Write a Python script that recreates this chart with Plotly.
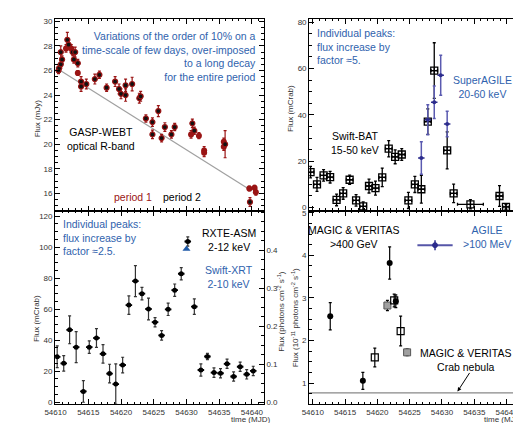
import plotly.graph_objects as go

# ---------------- data ----------------
# GASP-WEBT optical R-band (mJy)
gasp_p2_t = [54610.45, 54610.55, 54610.8, 54610.8, 54611.0, 54611.8, 54612.0, 54612.6, 54612.8, 54613.0,
             54613.4, 54613.9, 54613.9, 54614.7, 54616.0, 54616.7, 54617.8, 54619.1, 54619.7, 54620.0,
             54620.7, 54620.7, 54621.7, 54622.8, 54623.0, 54623.8, 54624.8, 54624.8, 54625.7, 54626.2,
             54626.7, 54627.7, 54628.2, 54630.9, 54631.2, 54635.9, 54639.7]
gasp_p2_f = [26.0, 26.2, 26.5, 27.5, 26.9, 28.5, 28.1, 27.5, 26.9, 27.5,
             26.6, 25.1, 24.7, 24.9, 25.3, 25.65, 24.6, 25.1, 24.5, 24.1,
             24.8, 24.0, 24.9, 23.75, 23.9, 22.1, 21.8, 20.8, 22.7, 20.5,
             21.4, 20.8, 21.4, 21.7, 21.1, 20.0, 15.3]
gasp_p2_e = [0.25, 0.3, 0.3, 0.5, 0.3, 0.6, 0.4, 0.3, 0.3, 0.4,
             0.3, 0.4, 0.4, 0.4, 0.4, 0.3, 0.3, 0.4, 0.4, 0.4,
             0.5, 0.5, 0.55, 0.4, 0.4, 0.3, 0.35, 0.35, 0.45, 0.3,
             0.35, 0.3, 0.3, 0.35, 0.3, 1.1, 0.35]
gasp_p1_t = [54611.6, 54612.4, 54613.4, 54630.7, 54631.9, 54632.7, 54632.7, 54635.7, 54635.7, 54639.6,
             54640.4, 54640.6]
gasp_p1_f = [27.8, 27.8, 25.8, 20.8, 20.7, 19.5, 19.3, 20.2, 19.8, 16.4,
             16.45, 16.1]
gasp_p1_e = [0.3, 0.3, 0.2, 0.3, 0.25, 0.3, 0.3, 0.3, 0.3, 0.2,
             0.2, 0.25]
trend_t = [54610.0, 54640.0]
trend_f = [26.25, 16.2]

# Swift-BAT 15-50 keV (mCrab)
bat_t = [54609.65, 54610.65, 54611.67, 54612.68, 54613.68, 54614.7, 54615.7, 54616.7, 54617.8, 54618.7,
         54619.7, 54620.75, 54621.75, 54622.75, 54623.77, 54624.8, 54625.8, 54626.8, 54627.8, 54628.8,
         54630.8, 54631.8, 54634.4, 54638.9, 54639.9]
bat_f = [15.3, 10.0, 13.9, 13.1, 3.3, 6.1, 12.0, 3.1, 0.5, 9.3,
         8.4, 13.0, 25.4, 21.9, 22.9, 3.1, 10.0, 7.9, 37.1, 59.1,
         24.7, 6.1, 1.4, 5.0, 0.3]
bat_e = [2.5, 3.0, 2.5, 2.5, 2.5, 2.5, 2.0, 2.5, 2.0, 3.0,
         3.0, 4.0, 3.5, 3.0, 2.5, 3.5, 3.5, 6.0, 5.5, 12.0,
         8.0, 4.0, 2.0, 4.5, 1.0]
bat_xe = [0.5] * 22 + [2.0, 0.5, 0.5]

# SuperAGILE 20-60 keV (mCrab)
sa_t = [54626.8, 54627.8, 54628.8, 54629.8, 54630.8]
sa_f = [21.4, 37.9, 45.4, 57.1, 36.1]
sa_e = [7.0, 6.5, 7.0, 8.6, 5.5]

# RXTE-ASM 2-12 keV (mCrab)
asm_t = [54610.25, 54611.25, 54612.15, 54613.15, 54614.25, 54615.15, 54616.25, 54617.25, 54618.25, 54619.2,
         54620.25, 54621.2, 54622.2, 54623.2, 54624.2, 54625.2, 54626.2, 54627.2, 54628.2, 54629.2,
         54630.2, 54631.2, 54632.2, 54633.2, 54634.2, 54635.2, 54636.2, 54637.2, 54638.2, 54639.2,
         54640.2]
asm_f = [29.3, 25.1, 46.7, 35.5, 7.0, 35.5, 41.4, 31.2, 18.5, 11.7,
         24.0, 62.6, 78.1, 70.0, 60.1, 51.6, 43.1, 59.9, 72.2, 82.8,
         103.6, 61.6, 20.8, 29.5, 19.1, 18.7, 24.8, 16.6, 22.9, 18.0,
         20.2]
asm_e = [7, 5, 9, 10, 7, 4, 6, 6, 6, 13,
         5, 6, 10, 4, 7, 3, 3, 4, 4, 4,
         3, 5, 4, 2, 3, 3, 3, 3, 3, 3,
         3]

# Swift-XRT 2-10 keV (right axis)
xrt_t = [54630.0]
xrt_f = [0.403]
xrt_ticks = [0.0, 0.1, 0.2, 0.3, 0.4]

# MAGIC & VERITAS >400 GeV (1e-11 ph cm-2 s-1)
magic_t = [54612.7, 54617.75, 54621.9, 54622.85]
magic_f = [2.57, 1.05, 3.82, 2.92]
magic_e = [0.32, 0.2, 0.38, 0.15]
ver_t = [54619.6, 54622.6, 54623.6]
ver_f = [1.6, 2.94, 2.22]
ver_e = [0.22, 0.15, 0.35]
ver2_t = [54621.55, 54624.6]
ver2_f = [2.82, 1.72]
ver2_e = [0.12, 0.08]
crab_t = [54609.0, 54642.0]
crab_f = [0.77, 0.77]

# ---------------- style ----------------
FONT = "Liberation Sans, Arial, sans-serif"
BLUE = "#2f62ad"
DRED = "#9a1414"
NAVY = "#2b2b8c"
PURP = "#5656a8"

W, H = 521, 423
def px(x): return x / W
def py(y): return 1 - y / H

XL = [px(37), px(250)]
XR = [px(296.5), px(510)]
YT = [py(203), py(9)]
YB = [py(399), py(203)]

fig = go.Figure()

# top-left
fig.add_trace(go.Scatter(x=trend_t, y=trend_f, mode="lines", line=dict(color="#a0a0a0", width=1.2),
                         xaxis="x", yaxis="y", showlegend=False))
fig.add_trace(go.Scatter(x=gasp_p1_t, y=gasp_p1_f, mode="markers", xaxis="x", yaxis="y",
                         marker=dict(color=DRED, size=6),
                         error_y=dict(array=gasp_p1_e, color=DRED, thickness=1.2, width=1.5),
                         showlegend=False))
fig.add_trace(go.Scatter(x=gasp_p2_t, y=gasp_p2_f, mode="markers", xaxis="x", yaxis="y",
                         marker=dict(color="#111111", size=5, line=dict(color=DRED, width=1.2)),
                         error_y=dict(array=gasp_p2_e, color=DRED, thickness=1.2, width=1.5),
                         showlegend=False))

# top-right
fig.add_trace(go.Scatter(x=bat_t, y=bat_f, mode="markers", xaxis="x2", yaxis="y2",
                         marker=dict(symbol="square-cross-open", color="black", size=7, line=dict(width=1.3)),
                         error_y=dict(array=bat_e, color="black", thickness=1.3, width=1.5),
                         error_x=dict(array=bat_xe, color="black", thickness=1.3, width=1.5),
                         showlegend=False))
fig.add_trace(go.Scatter(x=sa_t, y=sa_f, mode="markers", xaxis="x2", yaxis="y2",
                         marker=dict(symbol="circle", color=NAVY, size=4),
                         error_y=dict(array=sa_e, color="#5a5ab0", thickness=1.5, width=1.5),
                         error_x=dict(array=[0.5] * len(sa_t), color=NAVY, thickness=1.5, width=0),
                         showlegend=False))

# bottom-left
fig.add_trace(go.Scatter(x=asm_t, y=asm_f, mode="markers", xaxis="x3", yaxis="y3",
                         marker=dict(symbol="circle", color="black", size=5),
                         error_y=dict(array=asm_e, color="#333333", thickness=1.2, width=1.5),
                         error_x=dict(array=[0.5] * len(asm_t), color="black", thickness=1.8, width=0),
                         showlegend=False))
fig.add_trace(go.Scatter(x=xrt_t, y=xrt_f, mode="markers", xaxis="x3", yaxis="y5",
                         marker=dict(symbol="triangle-up", color="#1f5aa8", size=7),
                         showlegend=False))

# bottom-right
fig.add_trace(go.Scatter(x=crab_t, y=crab_f, mode="lines", xaxis="x4", yaxis="y4",
                         line=dict(color="#888888", width=1.2), showlegend=False))
fig.add_trace(go.Scatter(x=ver2_t, y=ver2_f, mode="markers", xaxis="x4", yaxis="y4",
                         marker=dict(symbol="square", color="#a0a0a0", size=7, line=dict(color="#555", width=1)),
                         error_y=dict(array=ver2_e, color="black", thickness=1.2, width=1.5),
                         showlegend=False))
fig.add_trace(go.Scatter(x=ver_t, y=ver_f, mode="markers", xaxis="x4", yaxis="y4",
                         marker=dict(symbol="square-open", color="black", size=7, line=dict(width=1.2)),
                         error_y=dict(array=ver_e, color="black", thickness=1.2, width=1.5),
                         showlegend=False))
fig.add_trace(go.Scatter(x=magic_t, y=magic_f, mode="markers", xaxis="x4", yaxis="y4",
                         marker=dict(symbol="circle", color="black", size=6),
                         error_y=dict(array=magic_e, color="black", thickness=1.2, width=1.5),
                         showlegend=False))

tickfont = dict(family=FONT, size=8, color="#333333")
def xax(domain, rng, anchor, labels):
    return dict(domain=domain, range=rng, anchor=anchor, showline=True, linecolor="black", linewidth=1.2,
                mirror="ticks", ticks="inside", ticklen=5, tickwidth=1, tickcolor="black",
                dtick=5, tick0=54610, showticklabels=labels, tickfont=tickfont, showgrid=False,
                zeroline=False, tickformat="d",
                minor=dict(ticks="inside", ticklen=2.5, dtick=1, tickcolor="black", showgrid=False))

def yax(domain, rng, anchor, dtick, mdtick, mirror="ticks"):
    return dict(domain=domain, range=rng, anchor=anchor, showline=True, linecolor="black", linewidth=1.2,
                mirror=mirror, ticks="inside", ticklen=5, tickwidth=1, tickcolor="black", dtick=dtick,
                tickfont=tickfont, showgrid=False, zeroline=False,
                minor=dict(ticks="inside", ticklen=2.5, dtick=mdtick, tickcolor="black", showgrid=False))

xr_left = [54609.95, 54641.8]
xr_right = [54609.45, 54641.8]

fig.update_layout(
    width=W, height=H, margin=dict(l=0, r=0, t=0, b=0),
    paper_bgcolor="white", plot_bgcolor="white",
    font=dict(family=FONT, color="black"),
    xaxis=xax(XL, xr_left, "y", False),
    xaxis2=xax(XR, xr_right, "y2", False),
    xaxis3=xax(XL, xr_left, "y3", True),
    xaxis4=xax(XR, xr_right, "y4", True),
    yaxis=yax(YT, [14.6, 30.2], "x", 2, 0.5),
    yaxis2=yax(YT, [-1.3, 81.4], "x2", 20, 5),
    yaxis3=yax(YB, [-1.3, 123.5], "x3", 20, 5, mirror=False),
    yaxis4=yax(YB, [0.5, 5.05], "x4", 1, 0.25, mirror=False),
    yaxis5=dict(overlaying="y3", side="right", anchor="x3", range=[-0.005, 0.504], showline=True,
                linecolor="black", linewidth=1.2, ticks="inside", ticklen=5, tickcolor="black",
                tickmode="array", tickvals=xrt_ticks, ticktext=[f"{v:.1f}" for v in xrt_ticks],
                tickfont=tickfont, showgrid=False, zeroline=False,
                minor=dict(ticks="inside", ticklen=2.5, dtick=0.025, tickcolor="black")),
    yaxis6=dict(overlaying="y4", side="right", anchor="x4", range=[0.5, 5.05], showline=True,
                linecolor=PURP, linewidth=1.2, ticks="inside", ticklen=5, tickcolor=PURP,
                dtick=1, tickfont=dict(family=FONT, size=8, color=PURP), showgrid=False, zeroline=False,
                minor=dict(ticks="inside", ticklen=2.5, dtick=0.25, tickcolor=PURP)),
)

def ann(text, x, y, color="black", size=10, xanchor="center", align="center", textangle=0):
    fig.add_annotation(text=text, x=x, y=y, xref="paper", yref="paper", showarrow=False,
                       font=dict(family=FONT, size=size, color=color), xanchor=xanchor,
                       yanchor="middle", align=align, textangle=textangle)

# top-left texts
ann("Variations of the order of 10% on a<br>time-scale of few days, over-imposed<br>to a long decay<br>for the entire period",
    px(244), py(47), color=BLUE, size=10.5, xanchor="right", align="right")
ann("GASP-WEBT<br>optical R-band", px(84), py(131), size=10.5)
ann("period 1", px(116), py(189), color=DRED, size=10.5)
ann("period 2", px(167), py(189), size=10.5)
ann("Flux (mJy)", px(19), py(110), size=8, color="#333", textangle=-90)

# top-right texts
ann("Individual peaks:<br>flux increase by<br>factor ≈5.", px(302), py(37), color=BLUE, size=10.5,
    xanchor="left", align="left")
ann("SuperAGILE<br>20-60 keV", px(473), py(78), color=BLUE, size=10.5)
ann("Swift-BAT<br>15-50 keV", px(343), py(135), size=10.5)
ann("Flux (mCrab)", px(278), py(100), size=8, color="#333", textangle=-90)

# bottom-left texts
ann("Individual peaks:<br>flux increase by<br>factor ≈2.5.", px(43), py(230), color=BLUE, size=10.5,
    xanchor="left", align="left")
ann("RXTE-ASM<br>2-12 keV", px(215), py(233), size=10.5)
ann("Swift-XRT<br>2-10 keV", px(215), py(270), color=BLUE, size=10.5)
ann("Flux (mCrab)", px(18), py(312), size=8, color="#333", textangle=-90)
ann("time (MJD)", px(236), py(414), size=8, color="#333")
ann("Flux (photons cm<sup>-2</sup> s<sup>-1</sup>)", px(268), py(305), size=8, color="#333", textangle=-90)

# bottom-right texts
ann("MAGIC & VERITAS<br>>400 GeV", px(342), py(230), size=10.5)
ann("AGILE<br>>100 MeV", px(478), py(230), color=BLUE, size=10.5)
ann("MAGIC & VERITAS<br>Crab nebula", px(456), py(354), size=10.5)
ann("Flux (10<sup>-11</sup> photons cm<sup>-2</sup> s<sup>-1</sup>)", px(282), py(312), size=8, color="#333",
    textangle=-90)
ann("Flux (10<sup>-6</sup> photons cm<sup>-2</sup> s<sup>-1</sup>)", px(517), py(312), size=8, color="#9a9ad0",
    textangle=-90)
ann("time (MJD)", px(495), py(414), size=8, color="#333")

# arrow to Crab line
fig.add_annotation(x=px(448), y=py(386), ax=13, ay=-20, xref="paper", yref="paper",
                   axref="pixel", ayref="pixel", showarrow=True, arrowhead=2, arrowsize=0.8,
                   arrowwidth=1, arrowcolor="black", text="")

# AGILE legend sample
fig.add_shape(type="line", x0=px(407), x1=px(443), y0=py(238), y1=py(238), xref="paper", yref="paper",
              line=dict(color=PURP, width=2))
fig.add_shape(type="line", x0=px(425), x1=px(425), y0=py(233), y1=py(243), xref="paper", yref="paper",
              line=dict(color=NAVY, width=1.5))
fig.add_shape(type="circle", x0=px(422.5), x1=px(427.5), y0=py(235.5), y1=py(240.5), xref="paper",
              yref="paper", fillcolor=NAVY, line=dict(color=NAVY, width=1))

fig.write_html("out.html")
